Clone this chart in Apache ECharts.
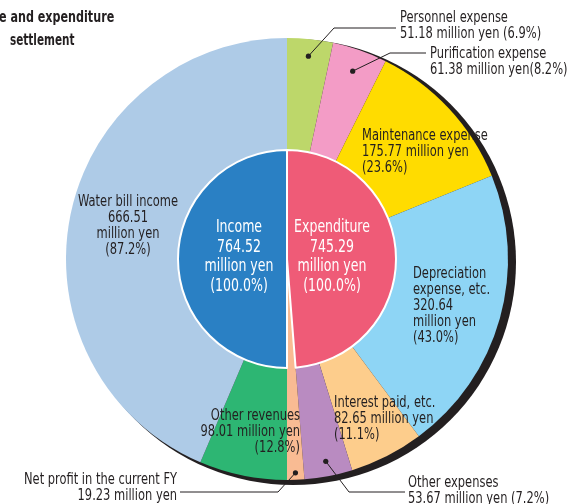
<!DOCTYPE html>
<html><head><meta charset="utf-8">
<script src="https://cdn.jsdelivr.net/npm/echarts@6/dist/echarts.min.js"></script>
<style>html,body{margin:0;padding:0;background:#fff}#c{width:572px;height:504px}</style>
</head><body><div id="c"></div>
<script>
// ---- data ----
const outerNames = ['Personnel expense','Purification expense','Maintenance expense','Depreciation expense, etc.','Interest paid, etc.','Other expenses','Net profit in the current FY','Other revenues','Water bill income'];
const outerValues = [51.18, 61.38, 175.77, 320.64, 82.65, 53.67, 19.23, 98.01, 666.51];
const outerGroup = ['exp','exp','exp','exp','exp','exp','profit','inc','inc'];
const innerNames = ['Expenditure','', 'Income'];
const innerValues = [745.29, 19.23, 764.52];
const titleLines = ['e and expenditure', 'settlement'];

// ---- styles / layout ----
const FONT = "'Liberation Sans Narrow','DejaVu Sans Condensed','Arial Narrow',sans-serif";
const INK = '#231f20';
const CX = 287, CY = 259, R_OUT = 221, R_IN = 109;
const SX = 0.85;      // horizontal squeeze to imitate the condensed face
const outerColors = ['#bdd76a','#f39cc6','#ffdc00','#8ed5f5','#fdcd8c','#b98bc1','#f9bb93','#2db673','#aecbe7'];
const innerColors = ['#ef5b77', '#f9bb93', '#2a80c4'];

const sum = a => a.reduce((s, v) => s + v, 0);
const expTotal = sum(outerValues.filter((v, i) => outerGroup[i] === 'exp'));
const incTotal = sum(outerValues.filter((v, i) => outerGroup[i] === 'inc'));
const outerTotal = sum(outerValues);
const pct = i => (outerValues[i] / (outerGroup[i] === 'inc' ? incTotal : expTotal) * 100).toFixed(1);
const val = i => outerValues[i].toFixed(2);

const outerText = [
  i => `${outerNames[i]}\n${val(i)} million yen (${pct(i)}%)`,
  i => `${outerNames[i]}\n${val(i)} million yen(${pct(i)}%)`,
  i => `${outerNames[i]}\n${val(i)} million yen\n(${pct(i)}%)`,
  i => `Depreciation\nexpense, etc.\n${val(i)}\nmillion yen\n(${pct(i)}%)`,
  i => `${outerNames[i]}\n${val(i)} million yen\n(${pct(i)}%)`,
  i => `${outerNames[i]}\n${val(i)} million yen (${pct(i)}%)`,
  i => `${outerNames[i]}\n${val(i)} million yen`,
  i => `${outerNames[i]}\n${val(i)} million yen\n(${pct(i)}%)`,
  i => `${outerNames[i]}\n${val(i)}\nmillion yen\n(${pct(i)}%)`
];

// dot positions derived from slice mid-angles
const dotR = [204, 199, 0, 0, 0, 206, 214, 0, 0];
function dotPos(i) {
  const before = sum(outerValues.slice(0, i));
  const a = (before + outerValues[i] / 2) / outerTotal * Math.PI * 2;
  return [CX + dotR[i] * Math.sin(a), CY - dotR[i] * Math.cos(a)];
}
const leader = {
  0: { elbow: [334, 28], end: [396, 28] },
  1: { elbow: [390, 53], end: [426, 53] },
  5: { elbow: [349, 492], end: [405, 492] },
  6: { elbow: [278, 492], end: [180, 492] }
};
const labelPos = [
  { x: 400, y: 26, align: 'left' },
  { x: 430, y: 62, align: 'left' },
  { x: 362, y: 152, align: 'left' },
  { x: 413, y: 306, align: 'left' },
  { x: 334, y: 419, align: 'left' },
  { x: 408, y: 491, align: 'left' },
  { x: 177, y: 488, align: 'right' },
  { x: 300, y: 432, align: 'right' },
  { x: 128, y: 226, align: 'center' }
];
const innerLabelPos = [
  { x: 332, y: 257 },
  null,
  { x: 239, y: 257 }
];

function textEl(x, y, text, align, size, lh, color, weight, sx) {
  return {
    type: 'text', x: x, y: y, scaleX: sx, z: 100, silent: true,
    style: {
      text: text, x: 0, y: 0, align: align, verticalAlign: 'middle',
      textAlign: align, textVerticalAlign: 'middle',
      fontFamily: FONT, fontSize: size, lineHeight: lh, fontWeight: weight || 'normal', fill: color
    }
  };
}

const graphics = [];
// leader lines + dots
Object.keys(leader).forEach(k => {
  const i = +k, p = dotPos(i);
  graphics.push({ type: 'polyline', z: 99, silent: true, shape: { points: [p, leader[i].elbow, leader[i].end] }, style: { stroke: INK, lineWidth: 1, fill: null } });
  graphics.push({ type: 'circle', z: 100, silent: true, shape: { cx: p[0], cy: p[1], r: 2.6 }, style: { fill: INK } });
});
// outer labels
outerValues.forEach((v, i) => {
  const L = labelPos[i];
  graphics.push(textEl(L.x, L.y, outerText[i](i), L.align, 15, 16, INK, 'normal', SX));
});
// inner labels
innerValues.forEach((v, i) => {
  const L = innerLabelPos[i];
  if (!L) return;
  graphics.push(textEl(L.x, L.y, `${innerNames[i]}\n${v.toFixed(2)}\nmillion yen\n(100.0%)`, 'center', 17, 19.7, '#fff', 'normal', 0.82));
});
// title (cropped in the source)
graphics.push(textEl(-1, 18, titleLines[0], 'left', 15.5, 18, INK, 'bold', 0.8));
graphics.push(textEl(10, 41, titleLines[1], 'left', 15.5, 18, INK, 'bold', 0.75));

const outerData = outerValues.map((v, i) => ({ name: outerNames[i], value: v, itemStyle: { color: outerColors[i] } }));
const innerData = innerValues.map((v, i) => ({
  name: innerNames[i], value: v,
  itemStyle: i === 1 ? { color: 'rgba(0,0,0,0)', borderWidth: 0 } : { color: innerColors[i] }
}));

const chart = echarts.init(document.getElementById('c'), null, { renderer: 'canvas' });
chart.setOption({
  animation: false,
  graphic: graphics,
  series: [
    {
      type: 'pie', silent: true, center: [CX + 6, CY + 3], radius: [0, R_OUT + 2],
      data: [{ value: 1, itemStyle: { color: INK } }], label: { show: false }, labelLine: { show: false }, z: 1
    },
    {
      type: 'pie', silent: true, center: [CX, CY], radius: [0, R_OUT],
      startAngle: 90, clockwise: true, z: 2,
      data: outerData, itemStyle: { borderWidth: 0 },
      label: { show: false }, labelLine: { show: false }
    },
    {
      type: 'pie', silent: true, center: [CX, CY], radius: [0, R_IN],
      startAngle: 90, clockwise: true, z: 3,
      data: innerData, itemStyle: { borderColor: '#fff', borderWidth: 2 },
      label: { show: false }, labelLine: { show: false }
    }
  ]
});
</script></body></html>
